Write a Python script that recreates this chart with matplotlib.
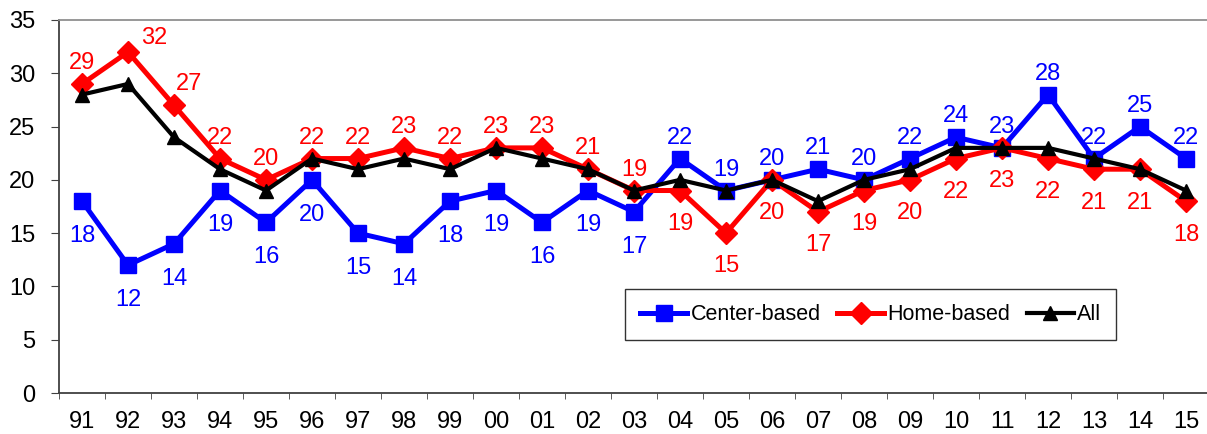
import matplotlib
matplotlib.use("Agg")
import matplotlib.pyplot as plt
import numpy as np

plt.rcParams['font.family'] = ['Liberation Sans', 'DejaVu Sans']

years = ["91", "92", "93", "94", "95", "96", "97", "98", "99", "00", "01", "02", "03",
         "04", "05", "06", "07", "08", "09", "10", "11", "12", "13", "14", "15"]
center_based = [18, 12, 14, 19, 16, 20, 15, 14, 18, 19, 16, 19, 17,
                22, 19, 20, 21, 20, 22, 24, 23, 28, 22, 25, 22]
home_based = [29, 32, 27, 22, 20, 22, 22, 23, 22, 23, 23, 21, 19,
              19, 15, 20, 17, 19, 20, 22, 23, 22, 21, 21, 18]
all_types = [28, 29, 24, 21, 19, 22, 21, 22, 21, 23, 22, 21, 19,
             20, 19, 20, 18, 20, 21, 23, 23, 23, 22, 21, 19]

W, H = 1207, 434
fig = plt.figure(figsize=(W / 100, H / 100), dpi=100)
ax = fig.add_axes([59 / W, (H - 393) / H, 1150 / W, 373 / H])

x = np.arange(len(years))
ax.plot(x, center_based, color='#0000FF', lw=3.6, marker='s', ms=12,
        label='Center-based', zorder=3)
ax.plot(x, home_based, color='#FF0000', lw=3.6, marker='D', ms=11,
        label='Home-based', zorder=4)
ax.plot(x, all_types, color='black', lw=3.0, marker='^', ms=10,
        label='All', zorder=5)

split = 13  # label side switches at '04'
fs = 17
for i, v in enumerate(center_based):
    dy = -25 if i < split else 15
    ax.annotate(str(v), (x[i], v), xytext=(0, dy), textcoords='offset points',
                ha='center', va='center', color='#0000FF', fontsize=fs, zorder=6)
for i, v in enumerate(home_based):
    dy = 15 if i < split else -24
    dx = 0
    if i == 1:
        dx, dy = 19, 10
    elif i == 2:
        dx = 11
    ax.annotate(str(v), (x[i], v), xytext=(dx, dy), textcoords='offset points',
                ha='center', va='center', color='#FF0000', fontsize=fs, zorder=6)

ax.set_xlim(-0.5, len(years) - 0.5)
ax.set_ylim(0, 35)
ax.set_yticks(np.arange(0, 36, 5))
ax.set_xticks(x)
ax.set_xticklabels(years)
ax.set_xticks(np.arange(-0.5, len(years), 1), minor=True)
ax.tick_params(axis='x', which='major', length=0, labelsize=fs, pad=13)
ax.tick_params(axis='x', which='minor', length=4.5, direction='out', color='#404040')
ax.tick_params(axis='y', length=6, direction='out', labelsize=fs, pad=11, color='#404040')

for s in ['left', 'bottom']:
    ax.spines[s].set_color('#404040')
    ax.spines[s].set_linewidth(1.3)
ax.spines['top'].set_color('#909090')
ax.spines['top'].set_linewidth(1.3)
ax.spines['right'].set_visible(False)

leg = ax.legend(loc='upper left', bbox_to_anchor=((625 - 59) / 1150, (393 - 289) / 373),
                ncol=3, fontsize=15.5, frameon=True, fancybox=False, edgecolor='black',
                handlelength=2.2, handletextpad=0.15, columnspacing=0.75,
                borderpad=0.7, borderaxespad=0)
leg.get_frame().set_linewidth(1.0)

fig.savefig('out.png', dpi=100)
